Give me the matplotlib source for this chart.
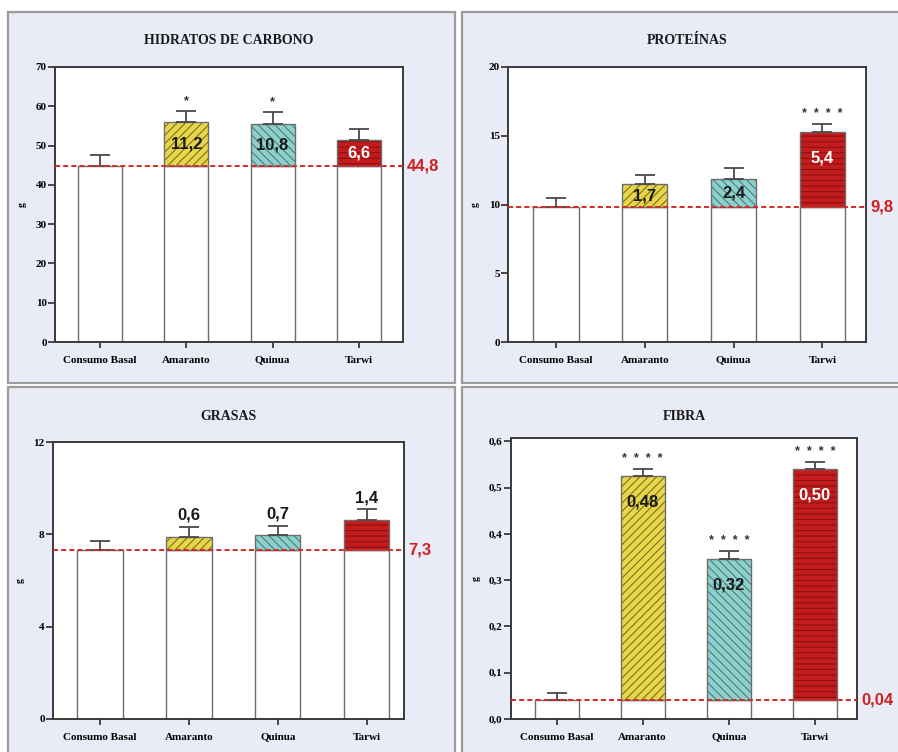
import matplotlib
matplotlib.use("Agg")
import matplotlib.pyplot as plt
from matplotlib.patches import Rectangle
from matplotlib import transforms
import numpy as np

# ---------------- data ----------------
categories = ['Consumo Basal', 'Amaranto', 'Quinua', 'Tarwi']

hc_title = 'HIDRATOS DE CARBONO'
hc_values = [44.8, 56.0, 55.6, 51.4]
hc_err = [2.8, 2.8, 2.9, 2.7]
hc_labels = ['', '11,2', '10,8', '6,6']
hc_stars = ['', '*', '*', '']
hc_baseline = 44.8
hc_baseline_label = '44,8'
hc_yticks = [0, 10, 20, 30, 40, 50, 60, 70]
hc_yticklabels = ['0', '10', '20', '30', '40', '50', '60', '70']

pr_title = 'PROTEÍNAS'
pr_values = [9.8, 11.5, 11.85, 15.25]
pr_err = [0.7, 0.65, 0.78, 0.6]
pr_labels = ['', '1,7', '2,4', '5,4']
pr_stars = ['', '', '', '****']
pr_baseline = 9.8
pr_baseline_label = '9,8'
pr_yticks = [0, 5, 10, 15, 20]
pr_yticklabels = ['0', '5', '10', '15', '20']

gr_title = 'GRASAS'
gr_values = [7.3, 7.87, 7.97, 8.62]
gr_err = [0.4, 0.45, 0.4, 0.46]
gr_labels = ['', '0,6', '0,7', '1,4']
gr_stars = ['', '', '', '']
gr_baseline = 7.3
gr_baseline_label = '7,3'
gr_yticks = [0, 4, 8, 12]
gr_yticklabels = ['0', '4', '8', '12']

fi_title = 'FIBRA'
fi_values = [0.04, 0.524, 0.346, 0.540]
fi_err = [0.016, 0.016, 0.016, 0.015]
fi_labels = ['', '0,48', '0,32', '0,50']
fi_stars = ['', '****', '****', '****']
fi_baseline = 0.04
fi_baseline_label = '0,04'
fi_yticks = [0.0, 0.1, 0.2, 0.3, 0.4, 0.5, 0.6]
fi_yticklabels = ['0,0', '0,1', '0,2', '0,3', '0,4', '0,5', '0,6']

# ---------------- style ----------------
W, H = 898, 752
DPI = 100
PANEL_BG = '#e9ecf6'
PANEL_EDGE = '#9c9c9c'
RED_LINE = '#d42a2a'
RED_TEXT = '#d02020'
fills = [None, '#e8d64a', '#90d0cc', '#c41b1c']
hatch_cols = [None, '#7c7022', '#44817e', '#8a1214']
hatches = [None, '////', '\\\\\\\\', '---']
label_cols = [None, '#1a1a1a', '#1a1a1a', 'white']
SERIF = ['Liberation Serif', 'DejaVu Serif']
SANS = ['Liberation Sans', 'DejaVu Sans']

plt.rcParams['hatch.linewidth'] = 0.8

fig = plt.figure(figsize=(W / DPI, H / DPI), dpi=DPI)
fig.patch.set_facecolor('white')
renderer = fig.canvas.get_renderer()


def px_rect(x0, y0, x1, y1):
    return [x0 / W, 1 - y1 / H, (x1 - x0) / W, (y1 - y0) / H]


# panel backgrounds
for (x0, y0, x1, y1) in [(8, 12, 455, 383), (462, 12, 905, 383),
                         (8, 387, 455, 760), (462, 387, 905, 760)]:
    r = px_rect(x0, y0, x1, y1)
    fig.patches.append(Rectangle((r[0], r[1]), r[2], r[3], transform=fig.transFigure,
                                 facecolor=PANEL_BG, edgecolor=PANEL_EDGE, lw=1.6, zorder=-10))


def draw_panel(axpx, xlim, ylim, title, title_y, values, err, labels, stars,
               baseline, baseline_label, yticks, yticklabels, label_mode):
    ax = fig.add_axes(px_rect(*axpx))
    ax.set_zorder(1)
    ax.set_facecolor('white')
    x = np.arange(len(categories))
    width = 0.51
    ax_h_px = axpx[3] - axpx[1]
    yr = ylim[1] - ylim[0]
    px2y = yr / ax_h_px

    # white lower part (basal)
    ax.bar(x, [min(v, baseline) for v in values], width=width, color='white',
           edgecolor='#6e6e6e', lw=1.0, zorder=2)
    # colored increments
    for i in range(1, len(categories)):
        inc = values[i] - baseline
        ax.bar(x[i], inc, bottom=baseline, width=width, color=fills[i],
               edgecolor=hatch_cols[i], hatch=hatches[i], lw=0, zorder=2)
        ax.bar(x[i], inc, bottom=baseline, width=width, fill=False,
               edgecolor='#6e6e6e', lw=1.0, zorder=3)
    # error bars (upper only)
    ax.errorbar(x, values, yerr=[np.zeros(len(err)), err], fmt='none',
                ecolor='#4a4a4a', elinewidth=1.3, capsize=7.5, capthick=1.3, zorder=4)

    # baseline
    ax.axhline(baseline, color=RED_LINE, lw=1.4, ls=(0, (2.6, 1.6)), zorder=5)
    tr = transforms.blended_transform_factory(ax.transAxes, ax.transData)
    ax.text(1.012, baseline, baseline_label, transform=tr, ha='left', va='center',
            color=RED_TEXT, fontsize=12, fontweight='bold', family=SANS, clip_on=False)

    # value labels
    for i in range(1, len(categories)):
        if not labels[i]:
            continue
        top = values[i]
        if label_mode == 'above':
            ax.text(x[i], top + err[i] + 4 * px2y, labels[i], ha='center', va='bottom',
                    fontsize=12, fontweight='bold', family=SANS, color='#1a1a1a', zorder=6)
        else:
            mid = (top + baseline) / 2
            y = max(mid, top - 26 * px2y)
            ax.text(x[i], y, labels[i], ha='center', va='center', fontsize=12,
                    fontweight='bold', family=SANS, color=label_cols[i], zorder=6)
    # significance stars
    for i in range(len(categories)):
        if stars[i]:
            ax.text(x[i], values[i] + err[i] + 4 * px2y, '  '.join(stars[i]),
                    ha='center', va='bottom', fontsize=9, fontweight='bold',
                    family=SANS, color='#333333', zorder=6)

    ax.set_xlim(*xlim)
    ax.set_ylim(*ylim)
    ax.tick_params(axis='y', direction='out', length=5, width=1.3, color='#3a3a3a', pad=1)
    ax.tick_params(axis='x', direction='inout', length=9, width=1.3, color='#3a3a3a', pad=10.5)
    ax.set_yticks(yticks)
    ax.set_yticklabels(yticklabels, family=SERIF, fontweight='bold', fontsize=8)
    ax.set_xticks(x)
    ax.set_xticklabels(categories, family=SERIF, fontweight='bold', fontsize=8,
                       va='baseline')
    # keep all category labels on one baseline (compensate glyph descent)
    for lab in ax.get_xticklabels():
        _, _, d = renderer.get_text_width_height_descent(
            lab.get_text(), lab.get_fontproperties(), ismath=False)
        if d > 0:
            lab.set_transform(lab.get_transform() + transforms.ScaledTranslation(
                0, 0.5 * d / DPI, fig.dpi_scale_trans))
    for s in ax.spines.values():
        s.set_color('#3a3a3a')
        s.set_linewidth(1.4)
    ax.set_ylabel('g', family=SERIF, fontsize=7, fontweight='bold', labelpad=6)

    cx = (axpx[0] + axpx[2]) / 2
    fig.text(cx / W, 1 - title_y / H, title, ha='center', va='center', family=SERIF,
             fontweight='bold', fontsize=10, color='#1a1a1a')
    return ax


draw_panel((55, 67, 403, 342), (-0.52, 3.51), (0, 70), hc_title, 41,
           hc_values, hc_err, hc_labels, hc_stars, hc_baseline, hc_baseline_label,
           hc_yticks, hc_yticklabels, 'inside')
draw_panel((508, 67, 866, 342), (-0.54, 3.49), (0, 20), pr_title, 41,
           pr_values, pr_err, pr_labels, pr_stars, pr_baseline, pr_baseline_label,
           pr_yticks, pr_yticklabels, 'inside')
draw_panel((53, 442, 404, 719), (-0.53, 3.42), (0, 12), gr_title, 417,
           gr_values, gr_err, gr_labels, gr_stars, gr_baseline, gr_baseline_label,
           gr_yticks, gr_yticklabels, 'above')
draw_panel((511, 438, 857, 719), (-0.53, 3.49), (0, 0.607), fi_title, 417,
           fi_values, fi_err, fi_labels, fi_stars, fi_baseline, fi_baseline_label,
           fi_yticks, fi_yticklabels, 'inside')

fig.savefig('out.png', dpi=DPI, facecolor='white')
